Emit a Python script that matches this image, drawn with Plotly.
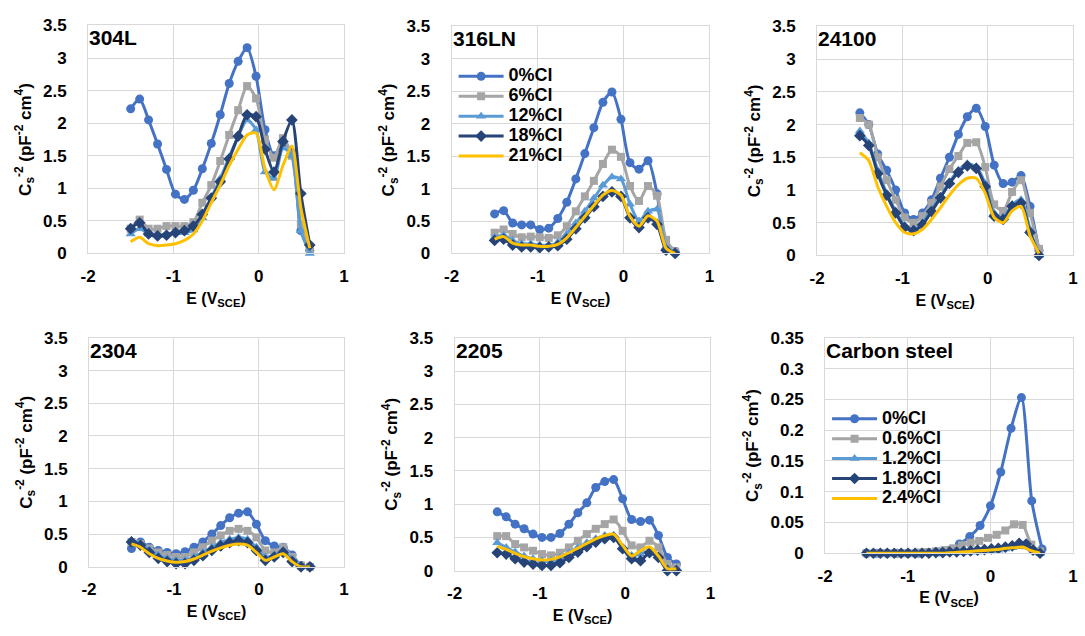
import plotly.graph_objects as go

# ---------------------------------------------------------------- data
# Potential grid (V vs SCE) used for the stainless steels
E_SS = [-1.5, -1.395, -1.29, -1.185, -1.08, -0.975, -0.87, -0.765, -0.66, -0.555,
        -0.45, -0.345, -0.24, -0.135, -0.03, 0.075, 0.18, 0.285, 0.39, 0.495, 0.6]

SS_SERIES = ["0%Cl", "6%Cl", "12%Cl", "18%Cl", "21%Cl"]

# 304L
S304L_0 = [2.22, 2.37, 2.05, 1.68, 1.29, 0.91, 0.83, 0.97, 1.30, 1.69, 2.13, 2.61, 2.95, 3.16, 2.72, 1.90, 1.50, 1.70, 1.55, 0.35, 0.05]
S304L_6 = [0.38, 0.52, 0.38, 0.38, 0.42, 0.42, 0.42, 0.48, 0.78, 1.05, 1.42, 1.82, 2.20, 2.57, 2.38, 1.75, 1.47, 1.77, 1.50, 0.45, 0.05]
S304L_12 = [0.30, 0.38, 0.30, 0.28, 0.30, 0.32, 0.32, 0.36, 0.55, 0.85, 1.15, 1.48, 1.80, 2.05, 1.90, 1.25, 1.15, 1.62, 1.50, 0.35, 0.00]
S304L_18 = [0.38, 0.47, 0.30, 0.27, 0.28, 0.32, 0.35, 0.42, 0.60, 0.85, 1.10, 1.45, 1.80, 2.13, 2.10, 1.60, 1.25, 1.72, 2.05, 0.92, 0.13]
S304L_21 = [0.18, 0.25, 0.15, 0.12, 0.13, 0.15, 0.20, 0.30, 0.50, 0.78, 1.05, 1.35, 1.60, 1.82, 1.85, 1.30, 0.98, 1.35, 1.65, 0.70, 0.08]

# 316LN
S316LN_0 = [0.61, 0.66, 0.47, 0.44, 0.44, 0.37, 0.39, 0.54, 0.79, 1.15, 1.54, 1.94, 2.33, 2.49, 2.07, 1.40, 1.30, 1.43, 0.92, 0.06, 0.03]
S316LN_6 = [0.32, 0.37, 0.30, 0.25, 0.26, 0.25, 0.24, 0.28, 0.42, 0.65, 0.88, 1.12, 1.38, 1.60, 1.49, 1.04, 0.81, 1.04, 0.89, 0.21, 0.03]
S316LN_12 = [0.25, 0.28, 0.20, 0.15, 0.15, 0.13, 0.13, 0.17, 0.30, 0.47, 0.65, 0.85, 1.05, 1.18, 1.15, 0.76, 0.50, 0.65, 0.68, 0.10, 0.02]
S316LN_18 = [0.20, 0.22, 0.13, 0.10, 0.10, 0.09, 0.10, 0.12, 0.22, 0.38, 0.55, 0.72, 0.88, 0.95, 0.88, 0.55, 0.40, 0.55, 0.45, 0.05, 0.00]
S316LN_21 = [0.22, 0.26, 0.16, 0.13, 0.13, 0.11, 0.11, 0.14, 0.24, 0.40, 0.57, 0.74, 0.90, 0.97, 0.90, 0.57, 0.42, 0.58, 0.50, 0.08, 0.00]

# 24100
S24100_0 = [2.18, 2.00, 1.55, 1.30, 1.00, 0.65, 0.55, 0.65, 0.85, 1.18, 1.50, 1.85, 2.12, 2.25, 1.97, 1.38, 1.10, 1.12, 1.22, 0.75, 0.08]
S24100_6 = [2.10, 2.00, 1.50, 1.15, 0.85, 0.58, 0.50, 0.60, 0.80, 1.05, 1.32, 1.52, 1.72, 1.73, 1.35, 0.78, 0.68, 0.97, 1.15, 0.65, 0.10]
S24100_12 = [1.90, 1.72, 1.30, 0.95, 0.68, 0.45, 0.40, 0.50, 0.70, 0.90, 1.12, 1.30, 1.40, 1.35, 1.10, 0.65, 0.58, 0.78, 0.85, 0.40, 0.00]
S24100_18 = [1.83, 1.68, 1.25, 0.92, 0.65, 0.43, 0.38, 0.47, 0.67, 0.88, 1.10, 1.27, 1.37, 1.33, 1.05, 0.60, 0.55, 0.75, 0.80, 0.35, 0.00]
S24100_21 = [1.57, 1.45, 1.05, 0.75, 0.50, 0.35, 0.33, 0.40, 0.55, 0.73, 0.92, 1.08, 1.18, 1.18, 0.95, 0.58, 0.50, 0.68, 0.75, 0.30, 0.03]

# 2304
S2304_0 = [0.28, 0.38, 0.30, 0.25, 0.22, 0.20, 0.23, 0.30, 0.38, 0.50, 0.63, 0.75, 0.82, 0.84, 0.65, 0.40, 0.32, 0.30, 0.18, 0.02, 0.00]
S2304_6 = [0.38, 0.35, 0.28, 0.22, 0.18, 0.15, 0.15, 0.22, 0.30, 0.40, 0.48, 0.55, 0.58, 0.55, 0.45, 0.25, 0.22, 0.30, 0.15, 0.02, 0.00]
S2304_12 = [0.40, 0.36, 0.26, 0.18, 0.13, 0.10, 0.10, 0.15, 0.22, 0.30, 0.37, 0.42, 0.45, 0.42, 0.30, 0.15, 0.18, 0.25, 0.12, 0.02, 0.00]
S2304_18 = [0.38, 0.33, 0.22, 0.13, 0.08, 0.05, 0.05, 0.10, 0.17, 0.25, 0.32, 0.37, 0.40, 0.37, 0.25, 0.10, 0.15, 0.22, 0.08, 0.00, 0.00]
S2304_21 = [0.35, 0.30, 0.20, 0.13, 0.09, 0.07, 0.08, 0.12, 0.18, 0.24, 0.29, 0.33, 0.35, 0.33, 0.22, 0.10, 0.15, 0.20, 0.08, 0.00, 0.00]

# 2205
S2205_0 = [0.885, 0.81, 0.70, 0.63, 0.55, 0.50, 0.50, 0.56, 0.70, 0.87, 1.02, 1.25, 1.34, 1.37, 1.08, 0.77, 0.74, 0.76, 0.53, 0.20, 0.10]
S2205_6 = [0.52, 0.52, 0.40, 0.35, 0.30, 0.25, 0.23, 0.27, 0.35, 0.45, 0.55, 0.63, 0.70, 0.77, 0.60, 0.38, 0.35, 0.45, 0.35, 0.10, 0.05]
S2205_12 = [0.42, 0.35, 0.28, 0.22, 0.18, 0.15, 0.15, 0.20, 0.27, 0.35, 0.42, 0.48, 0.53, 0.53, 0.35, 0.23, 0.25, 0.30, 0.22, 0.03, 0.02]
S2205_18 = [0.27, 0.25, 0.18, 0.13, 0.10, 0.08, 0.08, 0.12, 0.20, 0.28, 0.36, 0.43, 0.48, 0.50, 0.33, 0.18, 0.15, 0.27, 0.20, 0.00, 0.00]
S2205_21 = [0.37, 0.32, 0.26, 0.21, 0.18, 0.16, 0.17, 0.21, 0.27, 0.34, 0.41, 0.48, 0.53, 0.55, 0.38, 0.22, 0.30, 0.36, 0.22, 0.03, 0.03]

# Carbon steel (different chloride levels and potential grids)
CS_SERIES = ["0%Cl", "0.6%Cl", "1.2%Cl", "1.8%Cl", "2.4%Cl"]
E_CS_COARSE = [-1.5, -1.375, -1.25, -1.125, -1.0, -0.875, -0.75, -0.625, -0.5,
               -0.375, -0.25, -0.125, 0.0, 0.125, 0.25, 0.375, 0.5, 0.625]
E_CS_FINE = [-1.5, -1.416, -1.332, -1.248, -1.164, -1.08, -0.996, -0.912, -0.828,
             -0.744, -0.66, -0.576, -0.492, -0.408, -0.324, -0.24, -0.156, -0.072,
             0.012, 0.096, 0.18, 0.264, 0.348, 0.432, 0.516, 0.6]
CS_0 = [0.0, 0.0, 0.0, 0.0, 0.0, 0.0, 0.001, 0.002, 0.005, 0.015, 0.027, 0.045,
        0.077, 0.132, 0.203, 0.253, 0.085, 0.007]
CS_06 = [0.0, 0.0, 0.0, 0.0, 0.0, 0.0, 0.001, 0.002, 0.003, 0.005, 0.008, 0.013,
         0.017, 0.020, 0.025, 0.030, 0.037, 0.047, 0.046, 0.014, 0.003]
CS_12 = [0.0, 0.0, 0.0, 0.0, 0.0, 0.0, 0.0, 0.0, 0.0, 0.0, 0.0, 0.0, 0.001, 0.001,
         0.001, 0.002, 0.002, 0.003, 0.004, 0.005, 0.007, 0.009, 0.011, 0.010, 0.003, 0.0]
CS_18 = [0.0, 0.0, 0.0, 0.0, 0.0, 0.0, 0.0, 0.0, 0.0, 0.0, 0.001, 0.001, 0.002, 0.002,
         0.003, 0.004, 0.005, 0.006, 0.007, 0.008, 0.010, 0.012, 0.016, 0.015, 0.005, 0.0]
CS_24 = [0.0, 0.0, 0.0, 0.0, 0.0, 0.0, 0.0, 0.0, 0.0, 0.0, 0.001, 0.002, 0.003, 0.004,
         0.005, 0.006, 0.008, 0.009, 0.010, 0.004, 0.0]

E_TICKS = [-2, -1, 0, 1]
E_TICK_TEXT = ["-2", "-1", "0", "1"]

# ---------------------------------------------------------------- styling
FONT = "Liberation Sans, Arial, sans-serif"
GRID = "#d9d9d9"
STYLES = [
    dict(color="#4472C4", symbol="circle", size=9, mode="lines+markers"),
    dict(color="#A5A5A5", symbol="square", size=8, mode="lines+markers"),
    dict(color="#5B9BD5", symbol="triangle-up", size=9, mode="lines+markers"),
    dict(color="#264478", symbol="diamond", size=9, mode="lines+markers"),
    dict(color="#FFC000", symbol="circle", size=1, mode="lines"),
]
# legend rows are packed tightly; the entry text itself is drawn larger
LEGEND_ROW_FONT = 13
LEGEND_TEXT_PX = 18

W, H = 1085, 636
# plot-area boxes in pixels: (left, top, right, bottom)
BOXES = [
    (81, 17, 340, 252), (449, 18, 710, 252), (819, 18, 1078, 254),
    (82, 339, 340, 575), (452, 339, 711, 579), (827, 339, 1078, 561),
]

PANELS = [
    dict(name="304L", ymax=3.5, dtick=0.5,
         series=[(E_SS, S304L_0), (E_SS, S304L_6), (E_SS, S304L_12), (E_SS, S304L_18), (E_SS, S304L_21)],
         labels=SS_SERIES, legend=None),
    dict(name="316LN", ymax=3.5, dtick=0.5,
         series=[(E_SS, S316LN_0), (E_SS, S316LN_6), (E_SS, S316LN_12), (E_SS, S316LN_18), (E_SS, S316LN_21)],
         labels=SS_SERIES, legend="legend"),
    dict(name="24100", ymax=3.5, dtick=0.5,
         series=[(E_SS, S24100_0), (E_SS, S24100_6), (E_SS, S24100_12), (E_SS, S24100_18), (E_SS, S24100_21)],
         labels=SS_SERIES, legend=None),
    dict(name="2304", ymax=3.5, dtick=0.5,
         series=[(E_SS, S2304_0), (E_SS, S2304_6), (E_SS, S2304_12), (E_SS, S2304_18), (E_SS, S2304_21)],
         labels=SS_SERIES, legend=None),
    dict(name="2205", ymax=3.5, dtick=0.5,
         series=[(E_SS, S2205_0), (E_SS, S2205_6), (E_SS, S2205_12), (E_SS, S2205_18), (E_SS, S2205_21)],
         labels=SS_SERIES, legend=None),
    dict(name="Carbon steel", ymax=0.35, dtick=0.05,
         series=[(E_CS_COARSE, CS_0), (E_SS, CS_06), (E_CS_FINE, CS_12), (E_CS_FINE, CS_18), (E_SS, CS_24)],
         labels=CS_SERIES, legend="legend2"),
]

fig = go.Figure()
layout = {}
annotations = []

for i, (panel, box) in enumerate(zip(PANELS, BOXES)):
    n = "" if i == 0 else str(i + 1)
    xref, yref = "x" + n, "y" + n
    left, top, right, bottom = box
    for (xs, ys), label, st in zip(panel["series"], panel["labels"], STYLES):
        fig.add_trace(go.Scatter(
            x=xs, y=ys, mode=st["mode"],
            name=f'<span style="font-size:{LEGEND_TEXT_PX}px">{label}</span>',
            line=dict(color=st["color"], width=3,
                      shape="spline", smoothing=0.7),
            marker=dict(symbol=st["symbol"], size=st["size"], color=st["color"]),
            xaxis=xref, yaxis=yref, cliponaxis=False,
            showlegend=panel["legend"] is not None,
            legend=panel["legend"] or "legend",
        ))
    layout["xaxis" + n] = dict(
        domain=[left / W, right / W], anchor=yref, range=[-2, 1],
        tickvals=E_TICKS, ticktext=E_TICK_TEXT,
        showgrid=True, gridcolor=GRID, gridwidth=1, zeroline=False,
        showline=True, linecolor=GRID, linewidth=1, mirror=True, ticks="",
        ticklabelstandoff=7,
        tickfont=dict(family=FONT, size=17, color="#000", weight="bold"),
        title=dict(text="E (V<sub>SCE</sub>)", standoff=7,
                   font=dict(family=FONT, size=16, color="#000", weight="bold")),
    )
    layout["yaxis" + n] = dict(
        domain=[1 - bottom / H, 1 - top / H], anchor=xref,
        range=[0, panel["ymax"]], dtick=panel["dtick"],
        showgrid=True, gridcolor=GRID, gridwidth=1, zeroline=False,
        showline=True, linecolor=GRID, linewidth=1, mirror=True, ticks="",
        ticklabelstandoff=17,
        tickfont=dict(family=FONT, size=17, color="#000", weight="bold"),
        title=dict(text="C<sub>s</sub><sup>-2</sup> (pF<sup>-2</sup> cm<sup>4</sup>)", standoff=7,
                   font=dict(family=FONT, size=17, color="#000", weight="bold")),
    )
    annotations.append(dict(
        text=panel["name"], xref=xref + " domain", yref=yref + " domain",
        x=0.0, y=1.0, xshift=-1, yshift=1, xanchor="left", yanchor="top", showarrow=False,
        font=dict(family=FONT, size=21, color="#000", weight="bold"),
    ))

legend_style = dict(
    xanchor="left", yanchor="top", bgcolor="rgba(0,0,0,0)", borderwidth=0,
    itemwidth=45, tracegroupgap=0,
    font=dict(family=FONT, size=LEGEND_ROW_FONT, color="#000", weight="bold"),
)
layout["legend"] = dict(x=451 / W, y=1 - 54 / H, **legend_style)
layout["legend2"] = dict(x=829 / W, y=1 - 407 / H, **legend_style)

fig.update_layout(
    width=W, height=H, margin=dict(l=0, r=0, t=0, b=0),
    paper_bgcolor="white", plot_bgcolor="white",
    font=dict(family=FONT, color="#000", weight="bold"),
    annotations=annotations, **layout,
)

fig.write_html("out.html")
